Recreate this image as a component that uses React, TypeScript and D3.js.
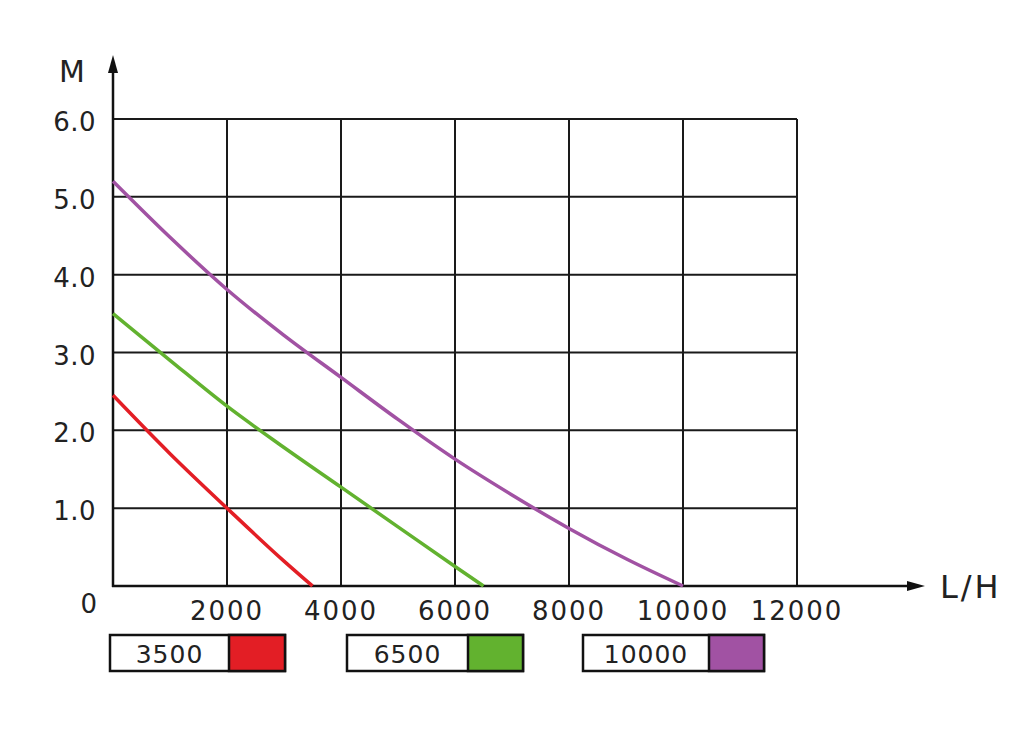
import React from "react";
import * as d3 from "d3";

const xTicks = [2000, 4000, 6000, 8000, 10000, 12000];
const yTicks = [1, 2, 3, 4, 5, 6];
const yTickLabels = ["1.0", "2.0", "3.0", "4.0", "5.0", "6.0"];

const flow3500 = [0, 1000, 2000, 3000, 3500];
const head3500 = [2.45, 1.7, 1.0, 0.32, 0];
const flow6500 = [0, 1000, 2000, 3000, 4000, 5000, 6000, 6500];
const head6500 = [3.5, 2.9, 2.31, 1.78, 1.27, 0.76, 0.25, 0];
const flow10000 = [0, 1000, 2000, 3000, 4000, 5000, 6000, 7000, 8000, 9000, 10000];
const head10000 = [5.2, 4.48, 3.81, 3.22, 2.68, 2.14, 1.63, 1.17, 0.74, 0.35, 0];

const seriesNames = ["3500", "6500", "10000"];
const seriesColors = ["#e31e25", "#62b22f", "#a152a3"];

const FONT = "'DejaVu Sans', sans-serif";

export default function App() {
  const x = d3.scaleLinear().domain([0, 12000]).range([113, 797]);
  const y = d3.scaleLinear().domain([0, 6]).range([586, 119]);
  const line = d3
    .line<[number, number]>()
    .x((d) => x(d[0]))
    .y((d) => y(d[1]))
    .curve(d3.curveMonotoneX);

  const series = [
    flow3500.map((f, i) => [f, head3500[i]] as [number, number]),
    flow6500.map((f, i) => [f, head6500[i]] as [number, number]),
    flow10000.map((f, i) => [f, head10000[i]] as [number, number]),
  ];

  const legendBoxes = [
    { x0: 110, xd: 229, x1: 285 },
    { x0: 347, xd: 468, x1: 523 },
    { x0: 583, xd: 709, x1: 764 },
  ];

  return (
    <svg
      width={1024}
      height={735}
      style={{ position: "absolute", left: 0, top: 0, background: "#fff" }}
    >
      <rect x={0} y={0} width={1024} height={735} fill="#fff" />
      {/* grid */}
      {xTicks.map((t) => (
        <line key={"gx" + t} x1={x(t)} x2={x(t)} y1={y(0)} y2={y(6)} stroke="#1a1a1a" strokeWidth={2} />
      ))}
      {yTicks.map((t) => (
        <line key={"gy" + t} x1={x(0)} x2={x(12000)} y1={y(t)} y2={y(t)} stroke="#1a1a1a" strokeWidth={2} />
      ))}
      {/* axes */}
      <line x1={x(0)} x2={x(0)} y1={y(0) + 1} y2={72} stroke="#111" strokeWidth={2.5} />
      <path d={`M${x(0) - 5},73 L${x(0)},55 L${x(0) + 5},73 Z`} fill="#111" />
      <line x1={x(0) - 1} x2={908} y1={y(0)} y2={y(0)} stroke="#111" strokeWidth={2.5} />
      <path d={`M907,${y(0) - 5} L925,${y(0)} L907,${y(0) + 5} Z`} fill="#111" />

      {/* curves */}
      {series.map((s, i) => (
        <path key={"s" + i} d={line(s) || ""} fill="none" stroke={seriesColors[i]} strokeWidth={3.5} />
      ))}

      {/* y labels */}
      {yTicks.map((t, i) => (
        <text
          key={"yl" + t}
          x={96}
          y={y(t) + 12}
          textAnchor="end"
          fontFamily={FONT}
          fontSize={26}
          letterSpacing={0.5}
          fill="#222"
        >
          {yTickLabels[i]}
        </text>
      ))}
      <text x={97} y={613} textAnchor="end" fontFamily={FONT} fontSize={26} fill="#222">
        0
      </text>
      {/* x labels */}
      {xTicks.map((t) => (
        <text
          key={"xl" + t}
          x={x(t)}
          y={620}
          textAnchor="middle"
          fontFamily={FONT}
          fontSize={26}
          letterSpacing={2}
          fill="#222"
        >
          {String(t)}
        </text>
      ))}
      {/* axis titles */}
      <text x={72} y={82} textAnchor="middle" fontFamily={FONT} fontSize={30} fill="#222">
        M
      </text>
      <text x={940} y={598} fontFamily={FONT} fontSize={32} letterSpacing={3} fill="#222">
        L/H
      </text>

      {/* legend */}
      {legendBoxes.map((b, i) => (
        <g key={"lg" + i}>
          <rect x={b.x0} y={635} width={b.x1 - b.x0} height={36} fill="#fff" stroke="#111" strokeWidth={2.5} />
          <rect x={b.xd} y={635} width={b.x1 - b.xd} height={36} fill={seriesColors[i]} stroke="#111" strokeWidth={2.5} />
          <text
            x={(b.x0 + b.xd) / 2}
            y={663}
            textAnchor="middle"
            fontFamily={FONT}
            fontSize={25}
            letterSpacing={1}
            fill="#222"
          >
            {seriesNames[i]}
          </text>
        </g>
      ))}
    </svg>
  );
}
